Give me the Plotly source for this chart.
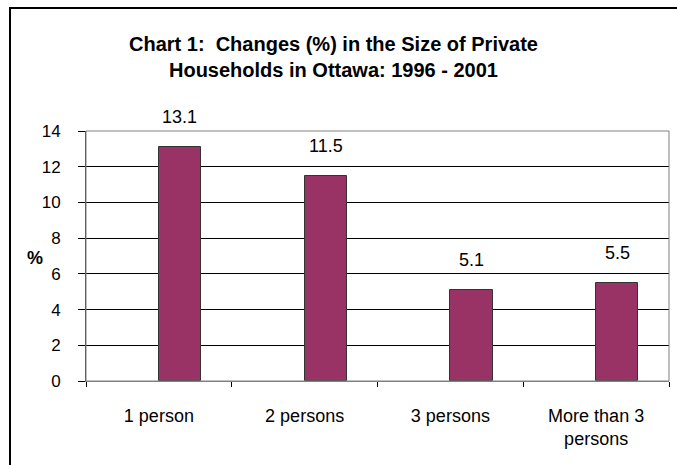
import plotly.graph_objects as go

categories = ["1 person", "2 persons", "3 persons", "More than 3<br>persons"]
values = [13.1, 11.5, 5.1, 5.5]
y_ticks = [0, 2, 4, 6, 8, 10, 12, 14]

W, H = 677, 465
L, R, T, B = 86, 8, 131, 84
pw, ph = W - L - R, H - T - B

def px(x):
    return (x - L) / pw

def py(y):
    return (H - B - y) / ph

FONT = "Liberation Sans, Arial, sans-serif"

fig = go.Figure()
fig.add_trace(go.Bar(
    x=categories, y=values,
    offset=0, width=0.29,
    marker=dict(color="#993366", line=dict(color="#333333", width=1)),
    hoverinfo="skip",
))

annotations = []
for c, v in zip(categories, values):
    annotations.append(dict(
        x=c, y=v, xref="x", yref="y", text=f"{v:.1f}", showarrow=False,
        xshift=21, yshift=30, yanchor="middle",
        font=dict(family=FONT, size=18, color="black"),
    ))
annotations.append(dict(
    x=px(333), y=py(57), xref="paper", yref="paper",
    text="<b>Chart 1:  Changes (%) in the Size of Private<br>Households in Ottawa: 1996 - 2001</b>",
    showarrow=False, xanchor="center", yanchor="middle",
    font=dict(family=FONT, size=20, color="black"),
))
annotations.append(dict(
    x=px(35), y=py(258), xref="paper", yref="paper", text="<b>%</b>",
    showarrow=False, xanchor="center", yanchor="middle",
    font=dict(family=FONT, size=18, color="black"),
))

shapes = [
    dict(type="rect", xref="paper", yref="paper", x0=0, x1=1, y0=0, y1=1,
         line=dict(color="#808080", width=1), layer="above"),
    dict(type="rect", xref="paper", yref="paper",
         x0=px(10), x1=px(760), y0=py(520), y1=py(8),
         line=dict(color="black", width=2), layer="above"),
]

fig.update_layout(
    width=W, height=H,
    margin=dict(l=L, r=R, t=T, b=B, pad=0),
    paper_bgcolor="white", plot_bgcolor="white",
    showlegend=False,
    annotations=annotations,
    shapes=shapes,
    xaxis=dict(
        type="category", tickson="boundaries", ticks="outside", ticklen=5,
        tickcolor="black", showgrid=False, showline=True, linecolor="#808080",
        tickfont=dict(family=FONT, size=18, color="black"),
        ticklabelstandoff=18, range=[-0.5, 3.5],
    ),
    yaxis=dict(
        range=[0, 14], tickvals=y_ticks, ticks="outside", ticklen=7,
        tickcolor="black", showgrid=True, gridcolor="black", gridwidth=1,
        showline=True, linecolor="#404040", zeroline=False,
        tickfont=dict(family=FONT, size=17, color="black"),
        ticklabelstandoff=14,
    ),
    bargap=0,
)

fig.write_html("out.html", config={"displayModeBar": False},
               post_script="document.body.style.margin='0px';")
